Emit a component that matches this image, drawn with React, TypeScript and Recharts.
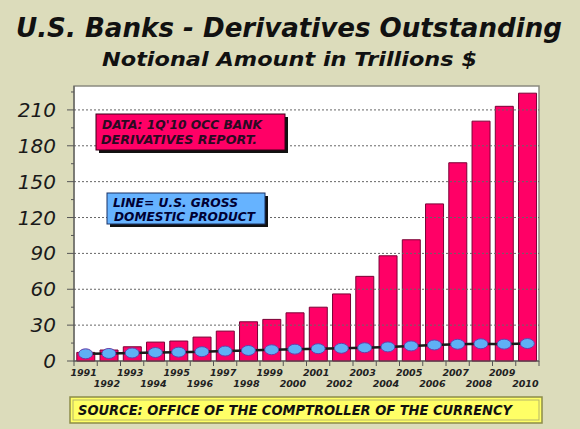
import React from "react";
import {
  Bar,
  CartesianGrid,
  ComposedChart,
  Line,
  ReferenceArea,
  ReferenceLine,
  XAxis,
  YAxis,
} from "recharts";

const years = [
  "1991", "1992", "1993", "1994", "1995", "1996", "1997", "1998", "1999", "2000",
  "2001", "2002", "2003", "2004", "2005", "2006", "2007", "2008", "2009", "2010",
];
const derivatives = [
  7.2, 9.2, 11.9, 15.8, 16.7, 20, 25, 32.8, 34.8, 40.3,
  45, 56.1, 70.8, 88, 101.4, 131.4, 165.8, 200.6, 213, 224,
];
const gdp = [
  6.0, 6.3, 6.7, 7.1, 7.4, 7.8, 8.3, 8.8, 9.4, 9.9,
  10.3, 10.6, 11.1, 11.8, 12.6, 13.4, 14.0, 14.4, 14.1, 14.6,
];
const yTicks = [0, 15, 30, 45, 60, 75, 90, 105, 120, 135, 150, 165, 180, 195, 210, 225];
const gridValues = [30, 60, 90, 120, 150, 180, 210];

const data = years.map((year, i) => ({ year, derivatives: derivatives[i], gdp: gdp[i] }));

const W = 580;
const H = 429;
const FONT = "'DejaVu Sans', Verdana, sans-serif";
const BG = "#dcdcbb";
const PLOT_LEFT = 74;
const PLOT_RIGHT = 539;
const HALF_BAND = (PLOT_RIGHT - PLOT_LEFT) / years.length / 2;

function YTick({ x, y, payload }: any) {
  const major = payload.value % 30 === 0;
  return (
    <g>
      <line x1={x - (major ? 7 : 3)} x2={x} y1={y} y2={y} stroke="#555" strokeWidth={1} />
      {major && (
        <text
          x={x - 18}
          y={y}
          dy={7}
          textAnchor="end"
          fontFamily={FONT}
          fontStyle="italic"
          fontSize={20}
          fill="#1a1a1a"
        >
          {payload.value}
        </text>
      )}
    </g>
  );
}

function XTick({ x, y, payload, index }: any) {
  const row = index % 2 === 0 ? 15 : 26;
  return (
    <g>
      <line x1={x + HALF_BAND} x2={x + HALF_BAND} y1={y} y2={y + 5} stroke="#555" />
      {index === 0 && <line x1={x - HALF_BAND} x2={x - HALF_BAND} y1={y} y2={y + 5} stroke="#555" />}
      <text
        x={x - 2}
        y={y + row}
        textAnchor="middle"
        fontFamily={FONT}
        fontStyle="italic"
        fontWeight="bold"
        fontSize={9.5}
        fill="#222"
      >
        {payload.value}
      </text>
    </g>
  );
}

function GdpDot({ cx, cy }: any) {
  if (cx == null || cy == null) return null;
  return <ellipse cx={cx} cy={cy} rx={7} ry={5} fill="#5fb0f5" stroke="#6a3da8" strokeWidth={1} />;
}

export default function App() {
  return (
    <div style={{ position: "absolute", left: 0, top: 0, width: W, height: H, background: BG }}>
      <ComposedChart
        width={W}
        height={H}
        data={data}
        margin={{ top: 86, right: W - PLOT_RIGHT, left: 0, bottom: 38 }}
        barCategoryGap="12%"
      >
        <CartesianGrid horizontal={false} vertical={false} fill="#ffffff" />
        {gridValues.map((v) => (
          <ReferenceLine key={v} y={v} stroke="#666" strokeDasharray="2 2" strokeWidth={1} />
        ))}
        <XAxis
          dataKey="year"
          tick={<XTick />}
          tickLine={false}
          tickSize={0}
          tickMargin={0}
          interval={0}
          height={30}
          axisLine={{ stroke: "#555" }}
        />
        <YAxis
          domain={[0, 230]}
          ticks={yTicks}
          tick={<YTick />}
          tickLine={false}
          tickSize={0}
          tickMargin={0}
          width={PLOT_LEFT}
          interval={0}
          axisLine={{ stroke: "#555" }}
        />
        <Bar
          dataKey="derivatives"
          fill="#ff0066"
          stroke="#7a0035"
          strokeWidth={1}
          isAnimationActive={false}
        />
        <Line
          type="linear"
          dataKey="gdp"
          stroke="#1a1a1a"
          strokeWidth={2.5}
          dot={<GdpDot />}
          activeDot={false}
          isAnimationActive={false}
        />
        <ReferenceArea y1={0} y2={230} fill="none" stroke="#8a8a80" strokeWidth={1.5} />
      </ComposedChart>

      <svg
        width={W}
        height={H}
        style={{ position: "absolute", left: 0, top: 0, pointerEvents: "none" }}
        fontFamily={FONT}
        fontWeight="bold"
        fontStyle="italic"
      >
        <text x={16} y={37} fontSize={27} textLength={546} lengthAdjust="spacingAndGlyphs" fill="#111">
          U.S. Banks - Derivatives Outstanding
        </text>
        <text x={102} y={66} fontSize={19.5} textLength={375} lengthAdjust="spacingAndGlyphs" fill="#111">
          Notional Amount in Trillions $
        </text>

        <rect x={99} y={117} width={189} height={36} fill="#111" />
        <rect x={96} y={114} width={189} height={36} fill="#ff0066" stroke="#3a0018" strokeWidth={1} />
        <text x={102} y={129} fontSize={13} textLength={160} lengthAdjust="spacingAndGlyphs" fill="#2a0a22">
          DATA: 1Q'10 OCC BANK
        </text>
        <text x={101} y={144} fontSize={13} textLength={156} lengthAdjust="spacingAndGlyphs" fill="#2a0a22">
          DERIVATIVES REPORT.
        </text>

        <rect x={110} y={196} width={158} height={31} fill="#111" />
        <rect x={107} y={193} width={158} height={31} fill="#66b3ff" stroke="#1a3366" strokeWidth={1} />
        <text x={113} y={207} fontSize={13} textLength={125} lengthAdjust="spacingAndGlyphs" fill="#000033">
          LINE= U.S. GROSS
        </text>
        <text x={114} y={221} fontSize={13} textLength={141} lengthAdjust="spacingAndGlyphs" fill="#000033">
          DOMESTIC PRODUCT
        </text>

        <rect x={70} y={397} width={472} height={26} fill="#ffff66" stroke="#8c8c4a" strokeWidth={1.5} />
        <rect x={73} y={400} width={466} height={20} fill="none" stroke="#b5b56a" strokeWidth={1} />
        <text x={78} y={415} fontSize={14.5} textLength={434} lengthAdjust="spacingAndGlyphs" fill="#111">
          SOURCE: OFFICE OF THE COMPTROLLER OF THE CURRENCY
        </text>
      </svg>
    </div>
  );
}
